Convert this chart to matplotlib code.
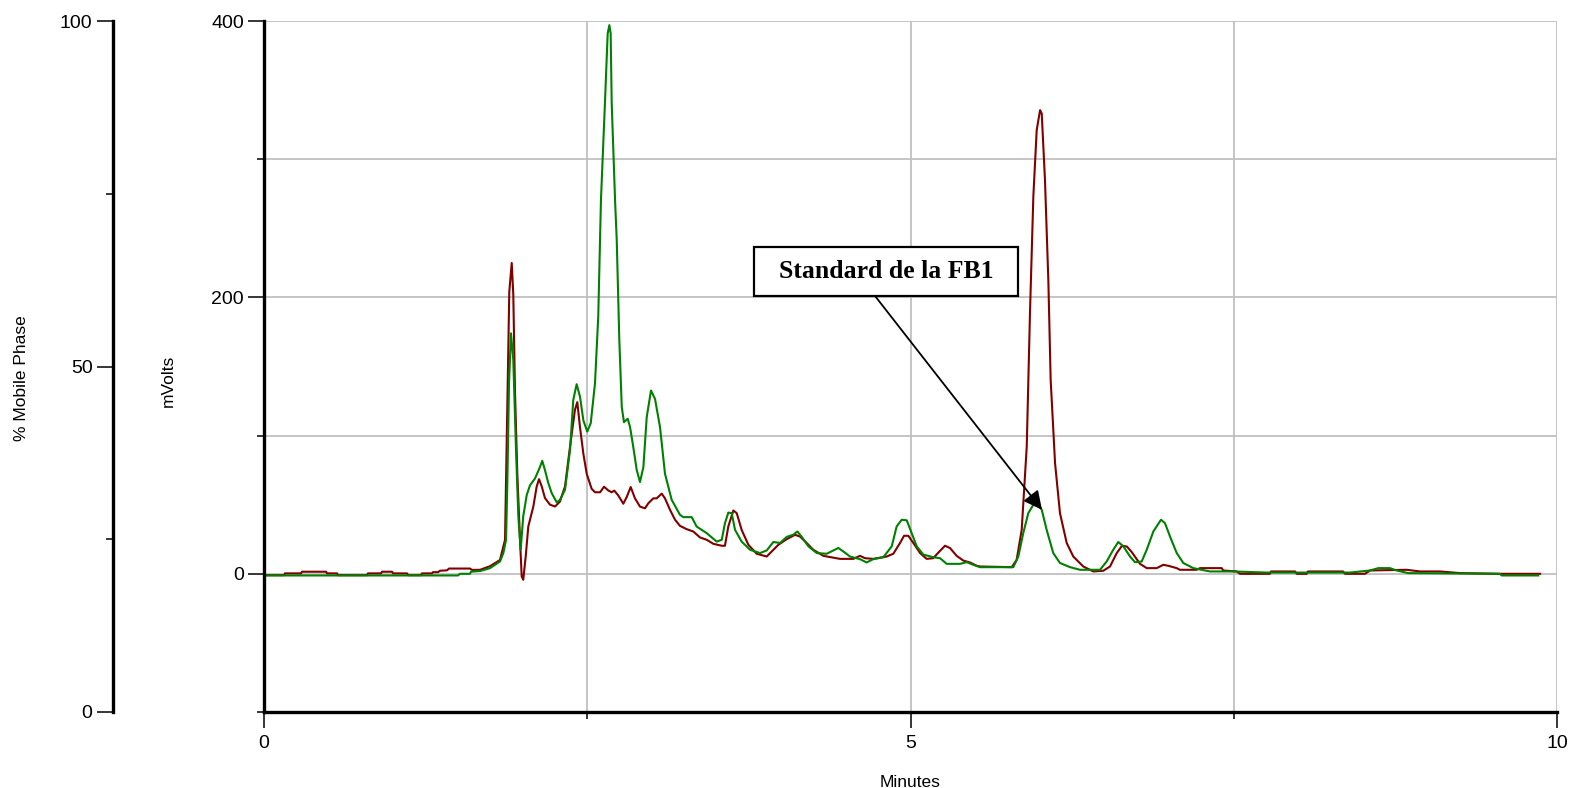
import matplotlib
matplotlib.use("Agg")
import matplotlib.pyplot as plt
from matplotlib.ticker import FixedLocator, NullFormatter
from matplotlib.patches import Rectangle

plt.rcParams['font.family'] = ['Liberation Sans', 'DejaVu Sans']

# Detector traces (time in minutes, signal in mV)
red_time = [0.000, 0.155, 0.162, 0.286, 0.294, 0.480, 0.487, 0.565, 0.572, 0.797,
            0.804, 0.905, 0.913, 0.990, 0.998, 1.106, 1.114, 1.214, 1.222, 1.299,
            1.307, 1.346, 1.361, 1.415, 1.431, 1.593, 1.609, 1.671, 1.748, 1.825,
            1.864, 1.882, 1.897, 1.916, 1.928, 1.941, 1.959, 1.980, 1.993, 2.005,
            2.024, 2.044, 2.083, 2.109, 2.127, 2.148, 2.173, 2.212, 2.251, 2.289,
            2.328, 2.367, 2.405, 2.423, 2.444, 2.470, 2.496, 2.534, 2.560, 2.599,
            2.630, 2.663, 2.689, 2.709, 2.740, 2.779, 2.805, 2.836, 2.869, 2.908,
            2.947, 2.972, 3.011, 3.037, 3.076, 3.101, 3.140, 3.179, 3.217, 3.269,
            3.320, 3.372, 3.424, 3.475, 3.540, 3.565, 3.591, 3.630, 3.656, 3.694,
            3.746, 3.810, 3.888, 3.926, 3.978, 4.043, 4.107, 4.145, 4.197, 4.248,
            4.326, 4.455, 4.558, 4.609, 4.648, 4.712, 4.816, 4.867, 4.919, 4.950,
            4.983, 5.022, 5.074, 5.125, 5.176, 5.215, 5.267, 5.305, 5.357, 5.408,
            5.460, 5.512, 5.537, 5.783, 5.821, 5.860, 5.899, 5.924, 5.950, 5.976,
            6.002, 6.015, 6.040, 6.066, 6.084, 6.118, 6.156, 6.208, 6.259, 6.336,
            6.414, 6.491, 6.543, 6.595, 6.636, 6.674, 6.713, 6.775, 6.827, 6.904,
            6.955, 6.994, 7.059, 7.084, 7.213, 7.239, 7.407, 7.419, 7.523, 7.549,
            7.780, 7.788, 7.974, 7.987, 8.064, 8.074, 8.345, 8.361, 8.515, 8.554,
            8.838, 8.940, 9.095, 9.250, 9.559, 9.869]
red_mv = [-1.0, -1.0, 0.3, 0.3, 1.5, 1.5, 0.3, 0.3, -1.0, -1.0,
          0.3, 0.3, 1.5, 1.5, 0.3, 0.3, -1.0, -1.0, 0.3, 0.3,
          1.2, 1.2, 2.2, 2.5, 3.8, 3.8, 2.8, 2.9, 5.5, 10.0,
          24.6, 120.6, 204.0, 224.9, 202.0, 132.6, 72.5, 24.6, -1.9, -4.3,
          12.5, 34.2, 48.7, 63.2, 68.5, 63.2, 54.8, 50.0, 48.7, 52.3,
          63.2, 92.2, 118.7, 124.2, 106.0, 86.8, 72.3, 61.5, 59.0, 59.0,
          63.0, 60.3, 59.0, 60.2, 56.7, 50.7, 55.5, 62.8, 54.6, 48.6,
          47.4, 51.0, 54.6, 54.6, 58.0, 54.6, 46.3, 39.1, 34.7, 32.3,
          30.6, 26.3, 24.6, 21.7, 20.3, 20.3, 34.3, 45.8, 43.9, 31.8,
          21.0, 14.5, 12.5, 16.1, 21.0, 25.1, 28.2, 27.0, 22.3, 17.4,
          13.0, 10.8, 10.8, 13.0, 11.3, 10.8, 12.5, 14.5, 22.3, 27.5,
          27.5, 22.3, 15.0, 10.8, 11.3, 15.3, 20.3, 18.7, 13.0, 9.6,
          8.2, 5.8, 5.3, 4.8, 10.1, 31.8, 92.1, 188.6, 273.0, 321.0,
          335.5, 333.0, 285.0, 212.6, 140.3, 80.0, 43.9, 22.3, 12.5, 5.3,
          1.7, 2.2, 5.3, 15.0, 20.3, 19.7, 15.5, 7.2, 4.1, 4.1,
          6.5, 5.8, 4.1, 2.9, 2.9, 4.1, 4.1, 2.4, 1.7, 0.0,
          0.0, 1.7, 1.7, 0.0, 0.0, 1.7, 1.7, 0.0, 0.0, 2.4,
          2.9, 1.7, 1.7, 0.5, 0.0, 0.0]

green_time = [0.000, 1.500, 1.516, 1.593, 1.601, 1.671, 1.748, 1.825, 1.851, 1.872,
              1.882, 1.895, 1.910, 1.928, 1.949, 1.967, 1.985, 2.005, 2.032, 2.057,
              2.096, 2.135, 2.152, 2.173, 2.199, 2.225, 2.264, 2.289, 2.328, 2.367,
              2.392, 2.418, 2.444, 2.470, 2.500, 2.527, 2.560, 2.585, 2.606, 2.637,
              2.658, 2.671, 2.681, 2.689, 2.715, 2.728, 2.748, 2.767, 2.784, 2.813,
              2.831, 2.856, 2.883, 2.908, 2.934, 2.960, 2.993, 3.024, 3.063, 3.101,
              3.153, 3.217, 3.243, 3.308, 3.346, 3.424, 3.501, 3.540, 3.565, 3.591,
              3.617, 3.643, 3.694, 3.759, 3.836, 3.888, 3.939, 3.991, 4.043, 4.094,
              4.125, 4.159, 4.210, 4.275, 4.352, 4.403, 4.442, 4.480, 4.532, 4.609,
              4.661, 4.712, 4.790, 4.855, 4.893, 4.932, 4.971, 5.009, 5.048, 5.099,
              5.176, 5.228, 5.280, 5.383, 5.435, 5.486, 5.538, 5.795, 5.834, 5.872,
              5.911, 5.950, 5.988, 6.015, 6.053, 6.104, 6.156, 6.234, 6.311, 6.466,
              6.517, 6.568, 6.607, 6.646, 6.698, 6.736, 6.788, 6.827, 6.878, 6.937,
              6.968, 7.007, 7.059, 7.110, 7.187, 7.316, 7.497, 7.755, 8.399, 8.554,
              8.618, 8.708, 8.760, 8.850, 9.559, 9.572, 9.855]
green_mv = [-1.2, -1.2, 0.0, 0.0, 1.5, 2.0, 4.1, 8.9, 15.0, 24.6,
            65.8, 138.0, 174.0, 154.8, 89.7, 41.7, 17.4, 41.7, 57.0, 64.0,
            69.0, 77.4, 81.8, 75.0, 65.6, 58.4, 51.7, 53.5, 60.8, 89.7,
            125.9, 137.2, 128.1, 111.0, 102.9, 109.0, 138.0, 186.0, 270.5, 341.0,
            391.0, 397.0, 391.0, 341.0, 270.5, 241.6, 169.0, 120.6, 109.7, 112.2,
            106.2, 91.7, 74.9, 66.4, 77.2, 113.4, 132.6, 126.6, 106.0, 72.5,
            53.5, 42.7, 41.0, 41.0, 34.2, 29.4, 23.3, 24.6, 36.6, 44.3,
            43.9, 31.8, 23.3, 17.4, 15.0, 16.9, 23.0, 22.3, 26.7, 28.3,
            30.6, 26.7, 19.9, 15.0, 14.5, 16.9, 18.7, 16.2, 12.5, 10.6,
            8.2, 10.6, 12.0, 19.9, 34.3, 39.1, 38.7, 29.4, 19.9, 13.9,
            12.0, 11.3, 7.2, 7.2, 8.4, 6.5, 4.8, 4.8, 12.5, 29.4,
            43.9, 49.9, 49.9, 46.3, 31.8, 15.0, 7.8, 4.8, 2.9, 2.9,
            8.9, 17.4, 23.0, 19.9, 12.5, 8.4, 8.9, 17.4, 30.6, 39.1,
            36.7, 27.0, 15.0, 7.8, 4.1, 1.7, 1.7, 0.9, 0.9, 2.4,
            4.1, 4.1, 2.4, 0.5, 0.0, -1.2, -1.2]

x_major = [0, 5, 10]
x_minor = [2.5, 7.5]
y_major = [0, 200, 400]
y_minor = [-100, 100, 300]
phase_major = [0, 50, 100]
phase_minor = [25, 75]

label_text = "Standard de la FB1"
label_box = (3.790, 201.1, 5.831, 236.5)      # x0, y0, x1, y1 in data units
arrow_tail = (4.725, 201.1)
arrow_head = (6.017, 46.3)

W, H = 1575, 788
fig = plt.figure(figsize=(W / 100, H / 100), dpi=100)
fig.patch.set_facecolor('white')

left, right, top, bottom = 264, 1557, 21, 712
ax = fig.add_axes([left / W, 1 - bottom / H, (right - left) / W, (bottom - top) / H])

ax.plot(red_time, red_mv, color='#800000', lw=1.5, zorder=3)
ax.plot(green_time, green_mv, color='#008000', lw=1.5, zorder=4)

ax.set_xlim(0, 10)
ax.set_ylim(-100, 400)

grid_col = '#c0c0c0'
ax.xaxis.set_major_locator(FixedLocator(x_major))
ax.xaxis.set_minor_locator(FixedLocator(x_minor))
ax.yaxis.set_major_locator(FixedLocator(y_major))
ax.yaxis.set_minor_locator(FixedLocator(y_minor))
ax.xaxis.set_minor_formatter(NullFormatter())
ax.yaxis.set_minor_formatter(NullFormatter())
ax.set_xticklabels([str(v) for v in x_major])
ax.set_yticklabels([str(v) for v in y_major])
ax.grid(True, which='both', color=grid_col, lw=1.3, zorder=1)
ax.set_axisbelow(True)

for s in ('top', 'right'):
    ax.spines[s].set_visible(False)
for s in ('left', 'bottom'):
    ax.spines[s].set_linewidth(2.4)
    ax.spines[s].set_zorder(5)

ax.tick_params(which='major', direction='out', length=11.5, width=1.1,
               labelsize=14, pad=3)
ax.tick_params(which='minor', direction='out', length=5, width=1.1)
ax.tick_params(axis='x', which='major', pad=5)

ax.set_ylabel('mVolts', fontsize=12.5)
ax.yaxis.set_label_coords((176 - left) / (right - left), (bottom - 381) / (bottom - top))
ax.set_xlabel('Minutes', fontsize=12.5)
ax.xaxis.set_label_coords(0.5, (bottom - 775) / (bottom - top))

# Mobile phase axis on the far left
ax2 = fig.add_axes([112.7 / W, 1 - bottom / H, 0.0005, (bottom - top) / H])
ax2.set_ylim(0, 100)
ax2.set_xticks([])
ax2.patch.set_visible(False)
for s in ('top', 'right', 'bottom'):
    ax2.spines[s].set_visible(False)
ax2.spines['left'].set_linewidth(2.4)
ax2.yaxis.set_major_locator(FixedLocator(phase_major))
ax2.yaxis.set_minor_locator(FixedLocator(phase_minor))
ax2.yaxis.set_minor_formatter(NullFormatter())
ax2.set_yticklabels([str(v) for v in phase_major])
ax2.tick_params(which='major', direction='out', length=11.5, width=1.1,
                labelsize=14, pad=3)
ax2.tick_params(which='minor', direction='out', length=5, width=1.1)
fig.text(22 / W, 1 - 378 / H, '% Mobile Phase', rotation=90, ha='center',
         va='center', fontsize=12.5)

# Annotation box with arrow
x0, y0, x1, y1 = label_box
ax.add_patch(Rectangle((x0, y0), x1 - x0, y1 - y0, facecolor='white',
                       edgecolor='black', lw=1.6, zorder=6))
ax.text((x0 + x1) / 2, (y0 + y1) / 2, label_text, ha='center', va='center',
        fontsize=18.5, fontweight='bold', family='Liberation Serif', zorder=7)
ax.annotate('', xy=arrow_head, xytext=arrow_tail,
            arrowprops=dict(arrowstyle='-|>', color='black', lw=1.3,
                            mutation_scale=28, shrinkA=0, shrinkB=0),
            zorder=6)

fig.savefig('out.png', dpi=100)
